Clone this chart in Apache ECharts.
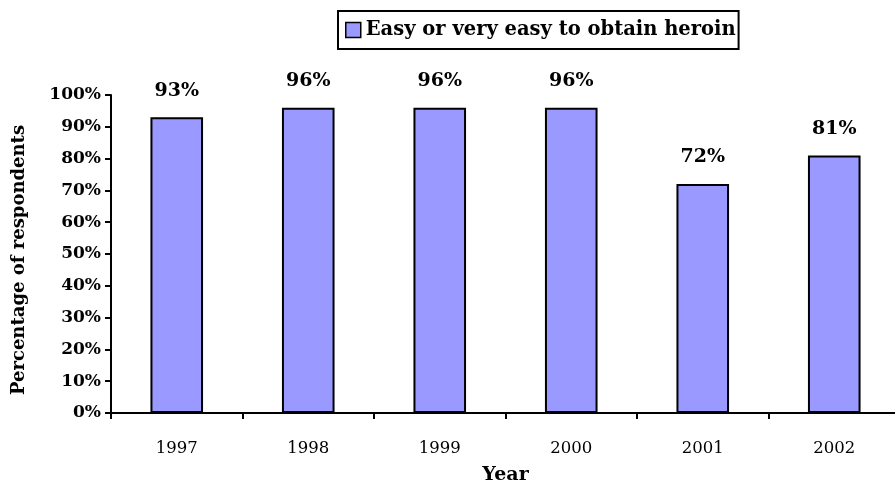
<!DOCTYPE html>
<html><head><meta charset="utf-8">
<script src="https://cdn.jsdelivr.net/npm/echarts@6/dist/echarts.min.js"></script>
<style>html,body{margin:0;padding:0;background:#fff}#c{width:895px;height:483px}</style>
</head><body><div id="c"></div>
<script>
const categories = ['1997','1998','1999','2000','2001','2002'];
const values = [93, 96, 96, 96, 72, 81];
const seriesName = 'Easy or very easy to obtain heroin';
const yTicks = [0,10,20,30,40,50,60,70,80,90,100];
const font = '"DejaVu Serif", "Liberation Serif", serif';
const chart = echarts.init(document.getElementById('c'), null, {renderer:'canvas'});
chart.setOption({
  animation:false,
  backgroundColor:'#fff',
  textStyle:{fontFamily:font},
  legend:{
    data:[seriesName], top:11, left:338,
    padding:[9,3,9,7], itemGap:0,
    borderColor:'#000', borderWidth:2, backgroundColor:'#fff',
    itemWidth:15, itemHeight:15, icon:'rect',
    itemStyle:{borderColor:'#000', borderWidth:1.5},
    textStyle:{fontFamily:font, fontWeight:'bold', fontSize:19.5, color:'#000'},
    selectedMode:false
  },
  grid:{left:111, right:-5, top:95, bottom:70, containLabel:false, outerBoundsMode:'none'},
  xAxis:{
    type:'category', data:categories,
    name:'Year', nameLocation:'middle', nameGap:53,
    nameTextStyle:{fontFamily:font, fontWeight:'bold', fontSize:19, color:'#000'},
    axisLine:{lineStyle:{color:'#000', width:2}},
    axisTick:{show:true, length:6, lineStyle:{color:'#000', width:2}, alignWithLabel:false},
    axisLabel:{fontFamily:font, fontSize:16.5, color:'#000', margin:27}
  },
  yAxis:{
    type:'value', min:0, max:100, interval:10,
    name:'Percentage of respondents', nameLocation:'middle', nameGap:83,
    nameTextStyle:{fontFamily:font, fontWeight:'bold', fontSize:18, color:'#000', padding:[0,12,0,0]},
    axisLine:{show:true, lineStyle:{color:'#000', width:2}},
    axisTick:{show:true, length:6, lineStyle:{color:'#000', width:2}},
    splitLine:{show:false},
    axisLabel:{fontFamily:font, fontWeight:'bold', fontSize:17, color:'#000', margin:10,
      formatter: v => yTicks.includes(v) ? v + '%' : ''}
  },
  series:[{
    name:seriesName, type:'bar', data:values, barWidth:'40%',
    itemStyle:{color:'#9999FF', borderColor:'#000', borderWidth:2},
    label:{show:true, position:'top', distance:17, formatter:'{c}%',
      fontFamily:font, fontWeight:'bold', fontSize:19, color:'#000'}
  }]
});
</script></body></html>
